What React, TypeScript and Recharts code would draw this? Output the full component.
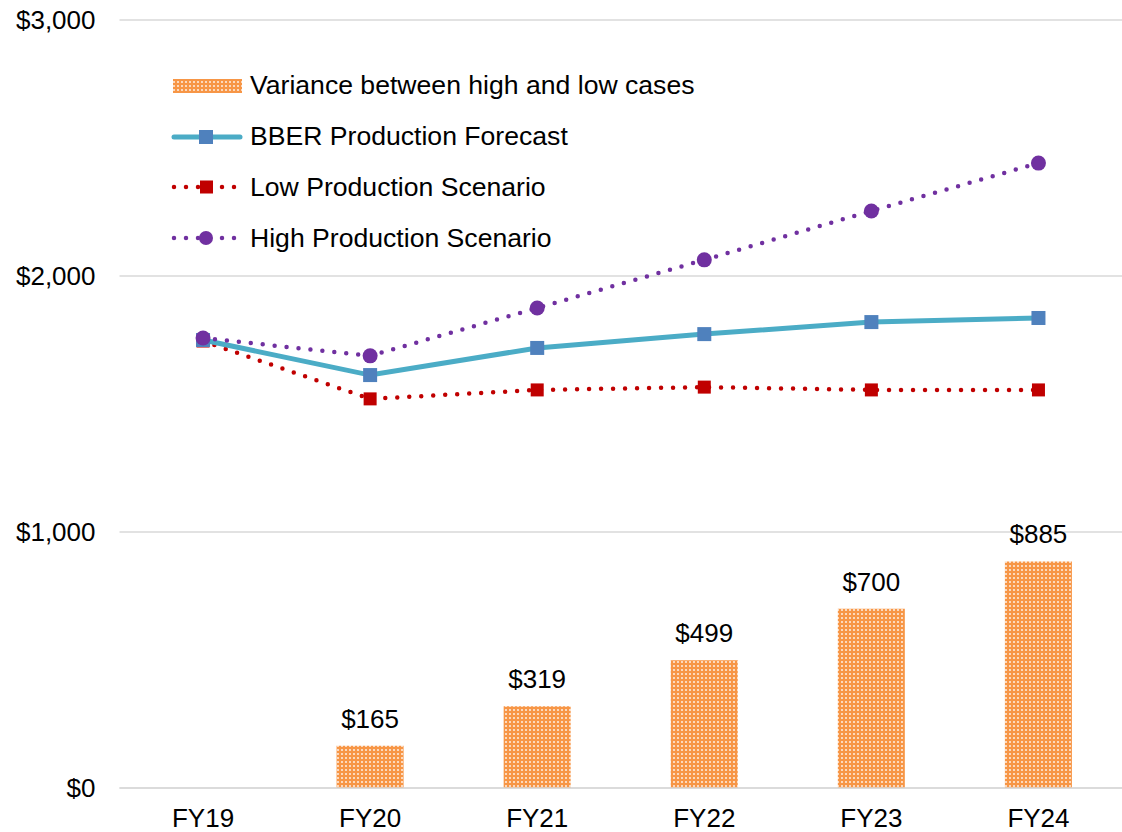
import React from 'react';
import {
  ComposedChart,
  Bar,
  Line,
  XAxis,
  YAxis,
  CartesianGrid,
  Legend,
  LabelList,
} from 'recharts';

const categories = ['FY19', 'FY20', 'FY21', 'FY22', 'FY23', 'FY24'];
const variance: (number | null)[] = [null, 165, 319, 499, 700, 885];
const bber = [1750, 1613, 1719, 1773, 1820, 1836];
const low = [1746, 1520, 1555, 1566, 1555, 1555];
const high = [1758, 1688, 1875, 2063, 2254, 2441];
const yTicks = [0, 1000, 2000, 3000];

const seriesNames = {
  variance: 'Variance between high and low cases',
  bber: 'BBER Production Forecast',
  low: 'Low Production Scenario',
  high: 'High Production Scenario',
};

const data = categories.map((c, i) => ({
  name: c,
  variance: variance[i],
  bber: bber[i],
  low: low[i],
  high: high[i],
}));

const FONT = '"Liberation Sans", Arial, sans-serif';
const ORANGE = '#F79646';
const TEAL = '#4BACC6';
const BLUE = '#4F81BD';
const RED = '#C00000';
const PURPLE = '#7030A0';

const SquareDot = (color: string, size: number) => (props: any) => {
  const { cx, cy, index } = props;
  if (cx == null || cy == null) return <g key={index} />;
  return (
    <rect
      key={index}
      x={cx - size / 2}
      y={cy - size / 2}
      width={size}
      height={size}
      fill={color}
    />
  );
};

const CircleDot = (color: string, r: number) => (props: any) => {
  const { cx, cy, index } = props;
  if (cx == null || cy == null) return <g key={index} />;
  return <circle key={index} cx={cx} cy={cy} r={r} fill={color} />;
};

const LegendContent = () => {
  const rowH = 50.7;
  const rows = [
    {
      label: seriesNames.variance,
      icon: (
        <rect x={1} y={3} width={69} height={14} fill="url(#dotPattern)" />
      ),
    },
    {
      label: seriesNames.bber,
      icon: (
        <g>
          <line x1={2} y1={10} x2={68} y2={10} stroke={TEAL} strokeWidth={5} strokeLinecap="round" />
          <rect x={27} y={3} width={14} height={14} fill={BLUE} />
        </g>
      ),
    },
    {
      label: seriesNames.low,
      icon: (
        <g>
          <line x1={2} y1={10} x2={70} y2={10} stroke={RED} strokeWidth={4.5} strokeDasharray="0 12" strokeLinecap="round" />
          <rect x={28} y={3.5} width={13} height={13} fill={RED} />
        </g>
      ),
    },
    {
      label: seriesNames.high,
      icon: (
        <g>
          <line x1={2} y1={10} x2={70} y2={10} stroke={PURPLE} strokeWidth={4.5} strokeDasharray="0 12" strokeLinecap="round" />
          <circle cx={34} cy={10} r={7} fill={PURPLE} />
        </g>
      ),
    },
  ];
  return (
    <div style={{ fontFamily: FONT, fontSize: 26.6, color: '#000' }}>
      {rows.map((r) => (
        <div
          key={r.label}
          style={{ height: rowH, display: 'flex', alignItems: 'center', whiteSpace: 'nowrap' }}
        >
          <svg width={72} height={20} style={{ marginRight: 6, overflow: 'visible' }}>
            {r.icon}
          </svg>
          <span>{r.label}</span>
        </div>
      ))}
    </div>
  );
};

export default function App() {
  return (
    <div style={{ position: 'absolute', left: 0, top: 0, width: 1122, height: 832, background: '#fff' }}>
      <ComposedChart
        width={1122}
        height={832}
        data={data}
        margin={{ top: 20, right: 0, left: 0, bottom: 0 }}
        barCategoryGap="30%"
      >
        <defs>
          <pattern id="dotPattern" x={0} y={0} width={4} height={4} patternUnits="userSpaceOnUse">
            <rect x={0} y={0} width={4} height={4} fill={ORANGE} />
            <rect x={1.2} y={1.2} width={1.6} height={1.6} fill="#ffffff" />
          </pattern>
        </defs>
        <CartesianGrid vertical={false} stroke="#d9d9d9" strokeWidth={1.5} />
        <XAxis
          dataKey="name"
          axisLine={{ stroke: '#d9d9d9', strokeWidth: 1.5 }}
          tickLine={false}
          tickSize={0}
          tickMargin={21}
          height={44}
          tick={{ fontSize: 26, fill: '#000', fontFamily: FONT }}
        />
        <YAxis
          domain={[0, 3000]}
          ticks={yTicks}
          axisLine={false}
          tickLine={false}
          tickSize={0}
          tickMargin={24}
          width={119.5}
          tickFormatter={(v: number) => `$${v.toLocaleString('en-US')}`}
          tick={{ fontSize: 26, fill: '#000', fontFamily: FONT }}
        />
        <Legend
          layout="horizontal"
          verticalAlign="middle"
          align="center"
          content={<LegendContent />}
          wrapperStyle={{ top: 60.6, left: 172, width: 700, height: 210 }}
        />
        <Bar
          dataKey="variance"
          name={seriesNames.variance}
          fill="url(#dotPattern)"
          barSize={67}
          isAnimationActive={false}
        >
          <LabelList
            dataKey="variance"
            position="top"
            offset={18}
            formatter={(v: any) => (v == null ? '' : `$${v}`)}
            style={{ fontSize: 26, fill: '#000', fontFamily: FONT }}
          />
        </Bar>
        <Line
          dataKey="low"
          name={seriesNames.low}
          stroke={RED}
          strokeWidth={4.5}
          strokeDasharray="0 12"
          strokeLinecap="round"
          dot={SquareDot(RED, 13)}
          activeDot={false}
          isAnimationActive={false}
        />
        <Line
          dataKey="bber"
          name={seriesNames.bber}
          stroke={TEAL}
          strokeWidth={5}
          dot={SquareDot(BLUE, 14)}
          activeDot={false}
          isAnimationActive={false}
        />
        <Line
          dataKey="high"
          name={seriesNames.high}
          stroke={PURPLE}
          strokeWidth={4.5}
          strokeDasharray="0 12"
          strokeLinecap="round"
          dot={CircleDot(PURPLE, 7.5)}
          activeDot={false}
          isAnimationActive={false}
        />
      </ComposedChart>
    </div>
  );
}
